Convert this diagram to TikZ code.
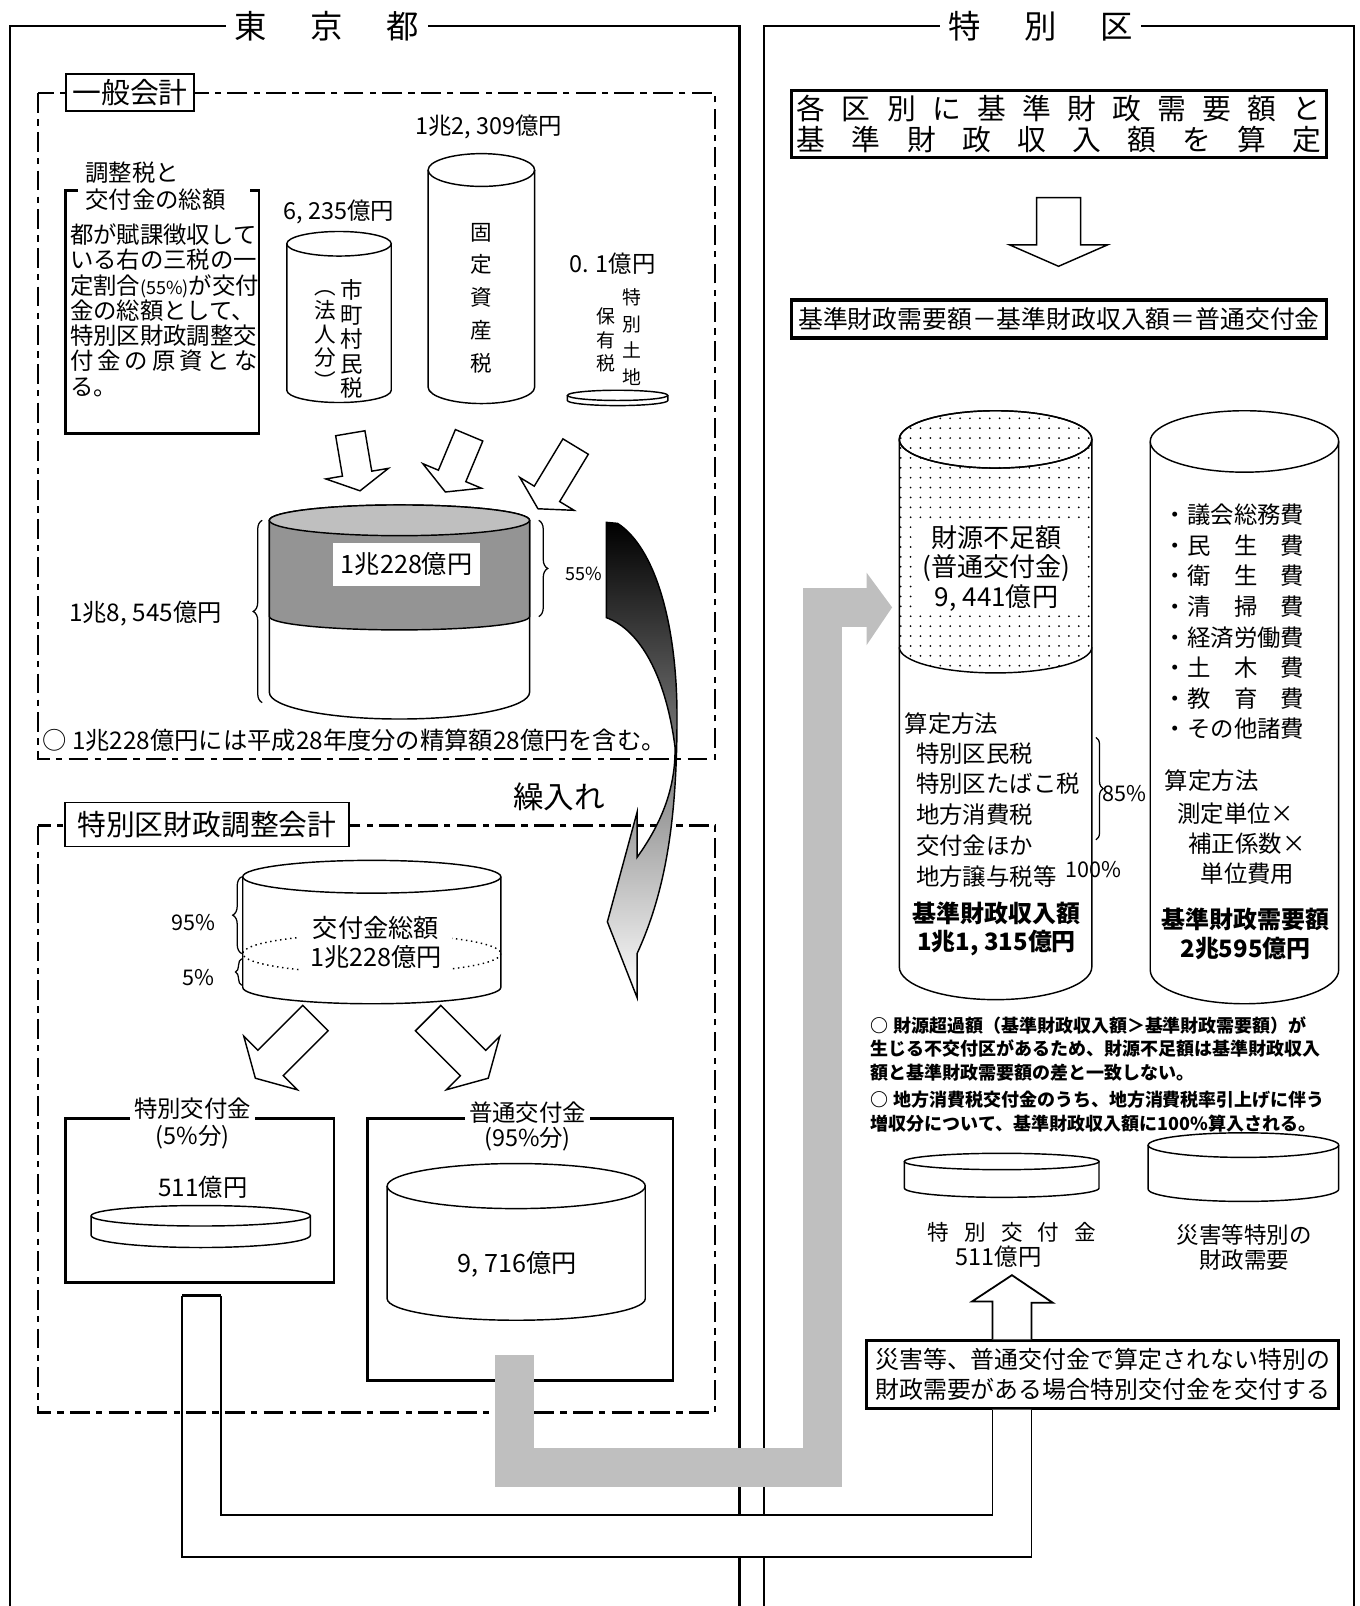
\documentclass[tikz,border=0pt]{standalone}
\usepackage{fontspec}
\setmainfont{Noto Sans CJK JP}
\usetikzlibrary{decorations.pathreplacing,patterns.meta}

\makeatletter
\newcommand\spreadtext[2]{\makebox[#1][s]{\spread@loop#2\@nil}}
\def\spread@loop#1#2\@nil{#1\ifx\relax#2\relax\else\hfil\spread@loop#2\@nil\fi}
\makeatother

\newcommand\cylinder[7][fill=white]{%
  \fill[#1] (#2-#7,#3) -- (#2-#7,#5) arc (180:0:#7 and #6) -- (#2+#7,#3) arc (0:-180:#7 and #4) -- cycle;
  \draw[line width=0.8pt] (#2-#7,#3) -- (#2-#7,#5) arc (180:0:#7 and #6) -- (#2+#7,#3);
  \draw[line width=0.8pt] (#2,#3) ellipse (#7 and #4);}

\newcommand\blockarrow[6]{%
  \begin{scope}[shift={(#1)}, rotate=#2]
    \filldraw[fill=white, line width=0.8pt] (0,-#4) -- (#3-#6,-#4) -- (#3-#6,-#5) -- (#3,0) -- (#3-#6,#5) -- (#3-#6,#4) -- (0,#4) -- cycle;
  \end{scope}}

\begin{document}
\begin{tikzpicture}[x=0.02cm, y=-0.02cm,
  frame/.style={line width=1.2pt},
  account/.style={line width=1.4pt, dash pattern=on 11pt off 3.5pt on 3.5pt off 3.5pt},
  tag/.style={draw, fill=white, line width=1pt, inner sep=0pt, font=\fontsize{16}{18}\selectfont},
  box/.style={draw, line width=1.5pt, inner sep=0pt},
  txt/.style={inner sep=0pt, font=\fontsize{13}{14}\selectfont},
  big/.style={fill=white, inner ysep=0pt, inner xsep=0.16cm, font=\fontsize{18}{20}\selectfont},
  vert/.style={align=center, inner sep=0pt},
  strong/.style={align=center, inner sep=0pt, font=\bfseries\fontsize{13.3}{16}\selectfont},
  note/.style={anchor=north west, align=left, inner sep=0pt, font=\bfseries\fontsize{10}{13.1}\selectfont},
  curly/.style={decorate, decoration={brace, amplitude=#1}, line width=0.7pt},
  band/.style={line width=21.6pt, black!25}]

  \useasboundingbox (0,0) rectangle (1327,1568);

  \draw[frame] (10,1568) -- (10,25) -- (722,25) -- (722,1568);
  \draw[frame] (746,1568) -- (746,25) -- (1322,25) -- (1322,1568);
  \node[big] (tokyo) at (319,26) {東\hspace{0.86cm}京\hspace{0.86cm}都};
  \node[big] (ku) at (1016,26) {特\hspace{0.86cm}別\hspace{0.86cm}区};

  \node[box, minimum width=9.22cm, minimum height=1.32cm, align=center, font=\fontsize{13.3}{16.5}\selectfont] (saigai) at (1076.5,1342)
    {災害等、普通交付金で算定されない特別の\\財政需要がある場合特別交付金を交付する};

  \coordinate (pipel) at (178,1265);
  \coordinate (pipei) at (216,1265);
  \coordinate (piper) at (1007,1520);
  \coordinate (pipej) at (969,1479);
  \fill[white] (pipel) -- (pipel |- piper) -- (piper) -- (piper |- saigai.south) -- (pipej |- saigai.south) -- (pipej) -- (pipei |- pipej) -- (pipei) -- cycle;
  \draw[line width=1pt] (pipel) -- (pipel |- piper) -- (piper) -- (piper |- saigai.south);
  \draw[line width=1pt] (pipei) -- (pipei |- pipej) -- (pipej) -- (pipej |- saigai.south);
  \draw[line width=1.6pt] (pipel) -- (pipei);

  \draw[account] (37,91) rectangle (698,741);
  \draw[account] (37,806) rectangle (698,1379);
  \node[tag, minimum width=2.5cm, minimum height=0.72cm] (ippan) at (127,90) {一般会計};
  \node[tag, minimum width=5.54cm, minimum height=0.86cm] (chosei) at (202,805) {特別区財政調整会計};

  \draw[line width=1.4pt] (76,186) -- (64,186) -- (64,423) -- (253,423) -- (253,186) -- (244,186);
  \node[txt, anchor=west] (choseizei) at (83,169) {調整税と};
  \node[txt, anchor=west] (sogakuhead) at (83,195) {交付金の総額};
  \node[txt, anchor=north west, align=left, font=\fontsize{13}{14.05}\selectfont] (gaiyo) at (68,218)
    {都が賦課徴収して\\いる右の三税の一\\定割合{\fontsize{10}{12}\selectfont(55\%)}が交付\\金の総額として、\\特別区財政調整交\\\spreadtext{3.66cm}{付金の原資とな}\\る。};

  \cylinder{331}{238}{12}{381}{12}{51}
  \cylinder{470}{166}{16}{378}{16}{52}
  \cylinder{603}{386}{5}{391}{5}{49}
  \node[txt] (shichoson) at (331,207) {6, 235億円};
  \node[txt] (kotei) at (477,124) {1兆2, 309億円};
  \node[txt] (tochi) at (598,257) {0. 1億円};
  \node[vert, font=\fontsize{12.5}{13.66}\selectfont] at (343,331) {市\\町\\村\\民\\税};
  \node[vert, font=\fontsize{12}{13.1}\selectfont] at (318,332) {︵\\法\\人\\分\\︶};
  \node[vert, font=\fontsize{12}{18.2}\selectfont] at (470,291) {固\\定\\資\\産\\税};
  \node[vert, font=\fontsize{10.5}{14.8}\selectfont] at (617,329) {特\\別\\土\\地};
  \node[vert, font=\fontsize{10.5}{13.1}\selectfont] at (592,332) {保\\有\\税};

  \blockarrow{342,423}{-80.4}{57}{14.5}{31}{17}
  \blockarrow{458,425}{-112.7}{60}{14.5}{31}{17}
  \blockarrow{562,436}{-121.2}{71}{14.5}{31}{17}

  \cylinder{390}{508}{15}{676}{26}{127}
  \filldraw[line width=0.8pt, fill=black!42] (263,508) -- (263,602) arc (180:0:127 and 13) -- (517,508) -- cycle;
  \filldraw[line width=0.8pt, fill=black!25] (390,508) ellipse (127 and 15);
  \node[fill=white, inner sep=0pt, minimum width=2.88cm, minimum height=0.84cm, font=\fontsize{14}{16}\selectfont] (kofugaku) at (397,551) {1兆228億円};
  \draw[curly=5pt] (256,686) -- (256,508);
  \draw[curly=5pt] (526,508) -- (526,602);
  \node[txt, font=\fontsize{13.5}{15}\selectfont] (zeigaku) at (142,599) {1兆8, 545億円};
  \node[txt, font=\fontsize{10}{12}\selectfont] (rate) at (570,560) {55\%};
  \node[txt, anchor=west, font=\fontsize{13.5}{15}\selectfont] (seisan) at (41,723) {○\ 1兆228億円には平成28年度分の精算額28億円を含む。};

  \node[txt, font=\fontsize{17}{18}\selectfont] (kuriire) at (546,778) {繰入れ};
  \shadedraw[top color=black, bottom color=white, line width=0.8pt] (592,510) -- (603,511)
    .. controls (640,535) and (661,610) .. (661,700)
    .. controls (661,800) and (650,870) .. (622,931) -- (622,974) -- (593,900) -- (622,793) -- (622,837)
    .. controls (645,805) and (660,770) .. (659,729)
    .. controls (650,660) and (625,615) .. (592,603) -- cycle;

  \cylinder{363}{856}{16}{964}{16}{126}
  \draw[dotted, line width=0.8pt] (363,931) ellipse (126 and 19);
  \node[fill=white, align=center, inner xsep=6pt, inner ysep=0pt, minimum height=1.22cm, font=\fontsize{14}{16}\selectfont] (sogaku) at (367,920) {交付金総額\\1兆228億円};
  \draw[curly=5pt] (236,931) -- (236,856);
  \draw[curly=3.5pt] (236,962) -- (236,936);
  \node[txt, font=\fontsize{12}{13}\selectfont] at (189,901) {95\%};
  \node[txt, font=\fontsize{12}{13}\selectfont] at (194,954) {5\%};

  \blockarrow{308,994}{-135}{83}{17.5}{37}{21}
  \blockarrow{418,994}{-45}{83}{17.5}{37}{21}

  \node[box, minimum width=5.24cm, minimum height=3.2cm] (tokubox) at (195,1172) {};
  \node[box, minimum width=5.96cm, minimum height=5.12cm] (futsubox) at (508,1220) {};
  \node[txt, fill=white, inner xsep=2pt, inner ysep=1pt] (tokutitle) at (188,1082) {特別交付金};
  \node[txt] at (188,1110) {(5\%分)};
  \node[txt, fill=white, inner xsep=2pt, inner ysep=1pt] (futsutitle) at (515,1086) {普通交付金};
  \node[txt] at (515,1112) {(95\%分)};
  \node[txt, font=\fontsize{13.5}{15}\selectfont] (tokugaku) at (198,1159) {511億円};
  \cylinder{196}{1187}{10}{1206}{12}{107}
  \cylinder{504}{1158}{22}{1268}{21}{126}
  \node[txt, font=\fontsize{14}{16}\selectfont] (futsugaku) at (505,1234) {9, 716億円};

  \node[draw, line width=1.8pt, minimum width=10.44cm, minimum height=1.3cm, inner sep=0pt, align=center, font=\fontsize{16}{17.6}\selectfont] (sante) at (1034,121)
    {\spreadtext{10.24cm}{各区別に基準財政需要額と}\\\spreadtext{10.24cm}{基準財政収入額を算定}};
  \blockarrow{1033.5,193}{-90}{67}{21.5}{48}{21}
  \node[draw, line width=1.8pt, minimum width=10.44cm, minimum height=0.74cm, inner sep=0pt, font=\fontsize{13.8}{15}\selectfont] (shiki) at (1034,311.5)
    {基準財政需要額－基準財政収入額＝普通交付金};

  \cylinder{972}{429}{28}{944}{32}{94}
  \fill[pattern={Dots[distance=5.5pt, radius=0.55pt]}] (878,429) -- (878,632) arc (180:0:94 and 25) -- (1066,429) arc (0:-180:94 and 28) -- cycle;
  \draw[line width=0.8pt] (878,632) arc (180:0:94 and 25);
  \draw[line width=0.8pt] (972,429) ellipse (94 and 28);
  \node[fill=white, align=center, inner sep=0pt, minimum width=3.24cm, minimum height=1.76cm, font=\fontsize{14.5}{16.5}\selectfont] (fusoku) at (973,555)
    {財源不足額\\(普通交付金)\\9, 441億円};
  \node[txt, anchor=west] (hoho) at (883,706) {算定方法};
  \node[txt, anchor=north west, align=left, font=\fontsize{13}{17.07}\selectfont] (zeimoku) at (894,724.6)
    {特別区民税\\特別区たばこ税\\地方消費税\\交付金ほか\\地方譲与税等};
  \draw[curly=4pt] (1070,720) -- (1070,820);
  \node[txt, font=\fontsize{12}{13}\selectfont] at (1098,775) {85\%};
  \node[txt, font=\fontsize{12}{13}\selectfont] at (1068,849) {100\%};
  \node[strong] (shunyu) at (973,907) {基準財政収入額\\1兆1, 315億円};

  \cylinder{1215}{431}{30}{947}{33}{92}
  \node[txt, anchor=north west, align=left, font=\fontsize{13}{17.02}\selectfont] (keihi) at (1136,491.6)
    {・議会総務費\\・民　生　費\\・衛　生　費\\・清　掃　費\\・経済労働費\\・土　木　費\\・教　育　費\\・その他諸費};
  \node[txt, anchor=west] (hoho2) at (1137,762) {算定方法};
  \node[txt, anchor=west] at (1149,794) {測定単位×};
  \node[txt, anchor=west] at (1160,824) {補正係数×};
  \node[txt, anchor=west] at (1172,853) {単位費用};
  \node[strong] (juyo) at (1216,911.5) {基準財政需要額\\2兆595億円};

  \node[note] (note1) at (850,992) {○ 財源超過額（基準財政収入額＞基準財政需要額）が\\生じる不交付区があるため、財源不足額は基準財政収入\\額と基準財政需要額の差と一致しない。};
  \node[note] (note2) at (850,1065) {○ 地方消費税交付金のうち、地方消費税率引上げに伴う\\増収分について、基準財政収入額に100\%算入される。};

  \cylinder{978}{1134}{8}{1160}{9}{95}
  \cylinder{1214}{1118}{12}{1161}{12}{93}
  \node[txt, font=\fontsize{12}{13}\selectfont] (tokuR) at (988,1203) {\spreadtext{3.3cm}{特別交付金}};
  \node[txt] (tokuRgaku) at (975,1227) {511億円};
  \node[vert, font=\fontsize{12.5}{13.7}\selectfont] (saigaiju) at (1215,1218) {災害等特別の\\財政需要};

  \coordinate (uptip) at (988,1245);
  \filldraw[fill=white, line width=1pt] (pipej |- saigai.north) -- ++(0,-37) -- ++(-20,0) -- (uptip) -- ++(40,27) -- ++(-21,0) -- (piper |- saigai.north);

  \coordinate (gstart) at (502,1323);
  \coordinate (gtip) at (871,593);
  \draw[band] (gstart) -- ++(0,110) -- ++(301,0) -- ++(0,-840) -- ++(43,0);
  \fill[black!25] (846,559) -- (gtip) -- (846,630) -- cycle;
\end{tikzpicture}
\end{document}
